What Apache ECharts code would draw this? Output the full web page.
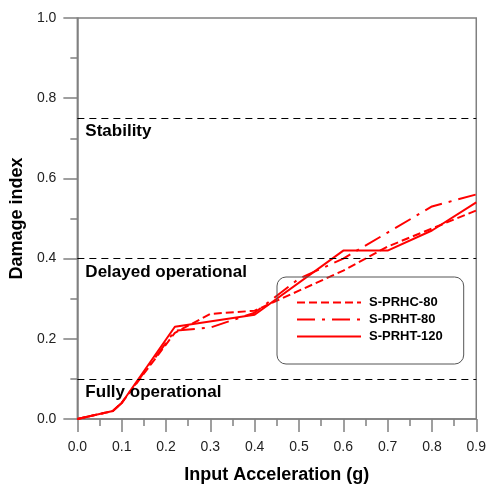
<!DOCTYPE html>
<html>
<head>
<meta charset="utf-8">
<script src="https://cdn.jsdelivr.net/npm/echarts@6/dist/echarts.min.js"></script>
<style>
  html, body { margin: 0; padding: 0; background: #fff; overflow: hidden; }
  #chart { width: 489px; height: 489px; }
</style>
</head>
<body>
<div id="chart"></div>
<script>
// Damage index vs. input acceleration for three specimens
const seriesNames = ['S-PRHC-80', 'S-PRHT-80', 'S-PRHT-120'];

const accelPRHC80 = [0, 0.08, 0.10, 0.22, 0.30, 0.40, 0.50, 0.60, 0.70, 0.80, 0.90];
const damagePRHC80 = [0, 0.02, 0.04, 0.215, 0.262, 0.27, 0.32, 0.37, 0.43, 0.475, 0.52];

const accelPRHT80 = [0, 0.08, 0.10, 0.22, 0.30, 0.40, 0.50, 0.60, 0.70, 0.80, 0.90];
const damagePRHT80 = [0, 0.02, 0.04, 0.22, 0.228, 0.265, 0.35, 0.40, 0.465, 0.53, 0.56];

const accelPRHT120 = [0, 0.08, 0.10, 0.22, 0.40, 0.60, 0.70, 0.80, 0.90];
const damagePRHT120 = [0, 0.02, 0.04, 0.23, 0.26, 0.42, 0.42, 0.47, 0.54];

// Performance level thresholds
const levelNames = ['Stability', 'Delayed operational', 'Fully operational'];
const levelValues = [0.75, 0.40, 0.10];

const xTicks = { min: 0, max: 0.9, interval: 0.1 };
const yTicks = { min: 0, max: 1.0, interval: 0.2 };

const pairs = (xs, ys) => xs.map((x, i) => [x, ys[i]]);

const lineTypes = [[8, 4], [18, 7, 3, 7], 'solid'];
const seriesData = [
  pairs(accelPRHC80, damagePRHC80),
  pairs(accelPRHT80, damagePRHT80),
  pairs(accelPRHT120, damagePRHT120)
];

const series = seriesNames.map((name, i) => ({
  name,
  type: 'line',
  data: seriesData[i],
  symbol: 'none',
  showSymbol: false,
  z: 3,
  lineStyle: { color: '#ff0000', width: 2, type: lineTypes[i] },
  itemStyle: { color: '#ff0000' }
}));

// threshold lines with their labels
series.push({
  name: 'levels',
  type: 'line',
  data: [],
  z: 2,
  markLine: {
    silent: true,
    symbol: 'none',
    animation: false,
    lineStyle: { color: '#000', type: [7, 5], width: 1.2 },
    label: {
      show: true,
      position: 'insideStartBottom',
      distance: [8, 5],
      color: '#000',
      fontFamily: 'Liberation Sans, Arial, sans-serif',
      fontWeight: 'bold',
      fontSize: 17,
      formatter: p => p.name
    },
    data: levelValues.map((v, i) => ({ yAxis: v, name: levelNames[i] }))
  }
});

const axisColor = '#808080';
const font = 'Liberation Sans, Arial, sans-serif';

const chart = echarts.init(document.getElementById('chart'), null, { renderer: 'canvas' });
chart.setOption({
  animation: false,
  backgroundColor: '#fff',
  grid: {
    left: 76, right: 7, top: 18, bottom: 66,
    show: true, borderColor: axisColor, borderWidth: 1.5, backgroundColor: 'transparent'
  },
  legend: {
    data: seriesNames,
    orient: 'vertical',
    left: 277,
    top: 277,
    padding: [19, 21, 21, 19],
    itemGap: 4,
    itemWidth: 64,
    itemHeight: 14,
    borderColor: '#555',
    borderWidth: 1,
    borderRadius: 9,
    itemStyle: { opacity: 0 },
    textStyle: { fontFamily: font, fontWeight: 'bold', fontSize: 13, color: '#000', padding: [0, 0, 0, 3] }
  },
  xAxis: {
    type: 'value',
    min: xTicks.min, max: xTicks.max, interval: xTicks.interval,
    name: 'Input Acceleration (g)',
    nameLocation: 'middle',
    nameGap: 47,
    nameTextStyle: { fontFamily: font, fontWeight: 'bold', fontSize: 18, color: '#000' },
    axisLine: { show: true, onZero: false, lineStyle: { color: axisColor, width: 1.5 } },
    axisTick: { show: true, inside: false, length: 13, lineStyle: { color: axisColor, width: 1.5 } },
    minorTick: { show: true, splitNumber: 2, length: 7, lineStyle: { color: axisColor, width: 1.5 } },
    axisLabel: { margin: 21, fontFamily: font, fontSize: 14, color: '#222', formatter: v => v.toFixed(1) },
    splitLine: { show: false }
  },
  yAxis: {
    type: 'value',
    min: yTicks.min, max: yTicks.max, interval: yTicks.interval,
    name: 'Damage index',
    nameLocation: 'middle',
    nameGap: 41,
    nameRotate: 90,
    nameTextStyle: { fontFamily: font, fontWeight: 'bold', fontSize: 18, color: '#000' },
    axisLine: { show: true, onZero: false, lineStyle: { color: axisColor, width: 1.5 } },
    axisTick: { show: true, inside: false, length: 14, lineStyle: { color: axisColor, width: 1.5 } },
    minorTick: { show: true, splitNumber: 2, length: 7, lineStyle: { color: axisColor, width: 1.5 } },
    axisLabel: { margin: 21, fontFamily: font, fontSize: 14, color: '#222', formatter: v => v.toFixed(1) },
    splitLine: { show: false }
  },
  series
});
</script>
</body>
</html>
